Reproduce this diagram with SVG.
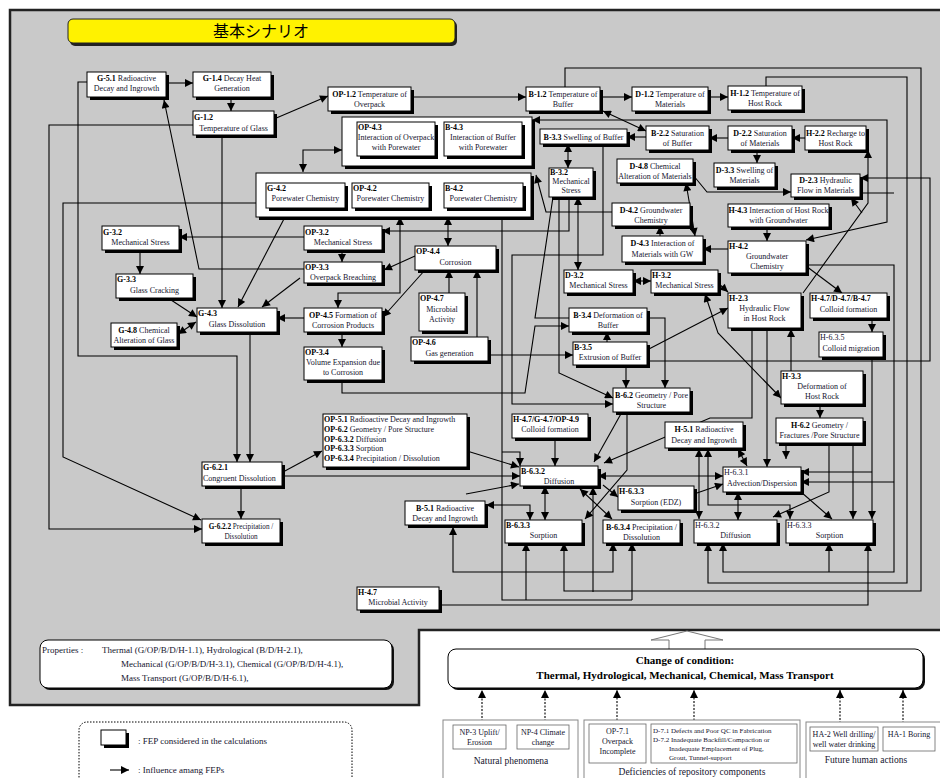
<svg xmlns="http://www.w3.org/2000/svg" width="940" height="778" viewBox="0 0 940 778">
<style>
text{font-family:"Liberation Serif","Times New Roman",serif;font-size:8px;fill:#14142e}
.b{font-weight:bold;fill:#000}
.c{text-anchor:middle}
.bx{fill:#fff;stroke:#000;stroke-width:1}
.sh{fill:#000}
.ln{fill:none;stroke:#000;stroke-width:1.1;marker-end:url(#ah)}
.nl{fill:none;stroke:#000;stroke-width:1.1}
.bi{fill:none;stroke:#000;stroke-width:1.1;marker-end:url(#ah);marker-start:url(#ah)}
.dl{fill:none;stroke:#000;stroke-width:1.1;stroke-dasharray:2 1.5;marker-end:url(#ah)}
.grp{fill:#fff;stroke:#888;stroke-width:1}
.sb{fill:#fff;stroke:#666;stroke-width:0.8}
.lb{font-size:9.5px}
</style>
<defs>
<marker id="ah" viewBox="0 0 10 10" refX="10" refY="5" markerWidth="9" markerHeight="8" markerUnits="userSpaceOnUse" orient="auto-start-reverse"><path d="M0,0 L10,5 L0,10 z" fill="#000"/></marker>
</defs>
<rect width="940" height="778" fill="#fff"/>
<path d="M10,10 H946 V630 H419 V705 H10 Z" fill="#c9c9c9" stroke="#222" stroke-width="2.5"/>
<g id="title">
<rect x="70" y="21" width="387" height="25" rx="5" fill="#222"/>
<rect x="68" y="19" width="387" height="24" rx="5" fill="#fff200" stroke="#222" stroke-width="1"/>
<text x="261" y="37" class="c" style="font-family:'Noto Sans CJK JP','Noto Sans CJK SC',sans-serif;font-size:16px;fill:#000">基本シナリオ</text>
</g>
<g id="connectors">
<path class="ln" d="M166,83 H193"/>
<path class="ln" d="M231,97 V111"/>
<path class="ln" d="M274,119 L328,96"/>
<path class="ln" d="M411,97 H526"/>
<path class="ln" d="M600,97 H632"/>
<path class="ln" d="M708,97 H728"/>
<path class="ln" d="M565,87 V68 H921 V591 H564 V543"/>
<path class="ln" d="M766,86 V77 H907 V583 H708 V543"/>
<path class="bi" d="M603,111 L646,131"/>
<path class="ln" d="M646,137 H627"/>
<path class="ln" d="M728,138 H709"/>
<path class="ln" d="M805,138 H792"/>
<path class="ln" d="M757,150 V163"/>
<path class="bi" d="M532,120 H887 V222 L806,240"/>
<path class="ln" d="M693,175 L707,192 H791"/>
<path class="bi" d="M686,183 L695,236"/>
<path class="ln" d="M660,236 V226"/>
<path class="ln" d="M612,212 H546 L536,175"/>
<path class="bi" d="M568,144 V168"/>
<path class="ln" d="M603,144 V255 H512 V404 H613"/>
<path class="ln" d="M569,197 V231 H382"/>
<path class="bi" d="M578,197 V270"/>
<path class="ln" d="M559,197 V373 L613,398"/>
<path class="nl" d="M553,197 L535,318 H569"/>
<path class="nl" d="M502,217 V600 H632"/>
<path class="ln" d="M632,600 V543"/>
<path class="ln" d="M526,600 V543"/>
<path class="ln" d="M502,452 H520 V466"/>
<path class="ln" d="M502,505 H530 V520"/>
<path class="ln" d="M502,505 H486"/>
<path class="ln" d="M728,249 H703"/>
<path class="ln" d="M767,227 V241"/>
<path class="ln" d="M806,266 L842,293"/>
<path class="ln" d="M806,265 H894 V572 H723 V543"/>
<path class="ln" d="M829,572 V543"/>
<path class="nl" d="M860,193 H894"/>
<path class="ln" d="M647,361 H930 V178 H860"/>
<path class="ln" d="M803,293 L868,203 V150"/>
<path class="ln" d="M862,213 L851,198"/>
<path class="ln" d="M872,318 V332"/>
<path class="ln" d="M872,357 V519"/>
<path class="ln" d="M872,472 H801"/>
<path class="ln" d="M894,482 H801"/>
<path class="ln" d="M767,328 V467"/>
<path class="ln" d="M752,328 V418 H710 L604,463"/>
<path class="ln" d="M791,371 V329"/>
<path class="ln" d="M820,404 V418"/>
<path class="bi" d="M705,294 L718,333 L781,398"/>
<path class="ln" d="M718,283 L728,292"/>
<path class="ln" d="M647,350 L728,308"/>
<path class="bi" d="M633,281 H651"/>
<path class="ln" d="M647,318 H665 V388"/>
<path class="ln" d="M626,365 V388"/>
<path class="ln" d="M607,342 V332"/>
<path class="ln" d="M622,412 L594,462"/>
<path class="ln" d="M627,412 V470 L585,519"/>
<path class="ln" d="M555,438 V466"/>
<path class="ln" d="M282,476 H520"/>
<path class="ln" d="M467,451 L519,467"/>
<path class="ln" d="M283,472 L322,451"/>
<path class="bi" d="M598,476 H723"/>
<path class="ln" d="M603,485 L618,497"/>
<path class="ln" d="M694,494 L723,484"/>
<path class="bi" d="M738,449 L747,466"/>
<path class="ln" d="M786,446 V459"/>
<path class="ln" d="M829,443 V492 L773,517"/>
<path class="ln" d="M853,443 V519"/>
<path class="bi" d="M738,492 V520"/>
<path class="ln" d="M801,492 L832,519"/>
<path class="bi" d="M545,486 V520"/>
<path class="bi" d="M580,489 L612,519"/>
<path class="ln" d="M593,592 V487"/>
<path class="bi" d="M699,449 V519"/>
<path class="bi" d="M708,449 V505 H790 V519"/>
<path class="ln" d="M466,494 L519,484"/>
<path class="bi" d="M453,527 V572 H613 V543"/>
<path class="ln" d="M439,605 H868 V543"/>
<path class="ln" d="M87,82 H78 V356 H237 V462"/>
<path class="ln" d="M193,125 H49 V529 H202"/>
<path class="ln" d="M256,203 H63 V457 L201,520"/>
<path class="ln" d="M304,237 H179"/>
<path class="ln" d="M140,250 V274"/>
<path class="ln" d="M168,298 L197,317"/>
<path class="bi" d="M178,334 L196,322"/>
<path class="ln" d="M222,135 V308"/>
<path class="ln" d="M285,217 L238,307"/>
<path class="ln" d="M300,278 L262,307"/>
<path class="ln" d="M304,318 H277"/>
<path class="ln" d="M250,332 V462"/>
<path class="ln" d="M241,486 V519"/>
<path class="ln" d="M304,269 H199 L164,100"/>
<path class="bi" d="M303,172 V150 H342"/>
<path class="ln" d="M342,250 V262"/>
<path class="ln" d="M415,256 L384,270"/>
<path class="ln" d="M425,270 L383,317"/>
<path class="bi" d="M400,217 V293 H338 V308"/>
<path class="bi" d="M448,217 V246"/>
<path class="ln" d="M449,293 V270"/>
<path class="ln" d="M477,337 V270"/>
<path class="ln" d="M342,332 V347"/>
<path class="ln" d="M342,380 V393 H525 L535,326 H569"/>
<path class="ln" d="M487,355 H573"/>
</g>
<g id="n-g51"><rect class="sh" x="90" y="75" width="79" height="25"/><rect class="bx" x="87" y="72" width="79" height="25"/><text x="126.5" y="81" class="c"><tspan class="b">G-5.1</tspan> Radioactive</text><text x="126.5" y="91" class="c">Decay and Ingrowth</text></g>
<g id="n-g14"><rect class="sh" x="196" y="75" width="78" height="25"/><rect class="bx" x="193" y="72" width="78" height="25"/><text x="232" y="81" class="c"><tspan class="b">G-1.4</tspan> Decay Heat</text><text x="232" y="91" class="c">Generation</text></g>
<g id="n-g12"><rect class="sh" x="196" y="114" width="81" height="24"/><rect class="bx" x="193" y="111" width="81" height="24"/><text x="194" y="120" class="b">G-1.2</text><text x="233.5" y="131" class="c">Temperature of Glass</text></g>
<g id="n-op12"><rect class="sh" x="331" y="90" width="83" height="24"/><rect class="bx" x="328" y="87" width="83" height="24"/><text x="369.5" y="97" class="c"><tspan class="b">OP-1.2</tspan> Temperature of</text><text x="369.5" y="107" class="c">Overpack</text></g>
<g id="n-int"><rect class="sh" x="345" y="120" width="190" height="49"/><rect class="bx" x="342" y="117" width="190" height="49"/>
<rect class="sh" x="360" y="125" width="78" height="34"/><rect class="bx" x="357" y="122" width="78" height="34"/><text x="358" y="130" class="b">OP-4.3</text><text x="396" y="140" class="c">Interaction of Overpack</text><text x="396" y="150" class="c">with Porewater</text>
<rect class="sh" x="447" y="125" width="78" height="34"/><rect class="bx" x="444" y="122" width="78" height="34"/><text x="445" y="130" class="b">B-4.3</text><text x="483" y="140" class="c">Interaction of Buffer</text><text x="483" y="150" class="c">with Porewater</text></g>
<g id="n-pw"><rect class="sh" x="259" y="176" width="275" height="44"/><rect class="bx" x="256" y="173" width="275" height="44"/>
<rect class="sh" x="269" y="186" width="79" height="25"/><rect class="bx" x="266" y="183" width="79" height="25"/><text x="267" y="191" class="b">G-4.2</text><text x="305.5" y="201" class="c">Porewater Chemistry</text>
<rect class="sh" x="355" y="186" width="77" height="25"/><rect class="bx" x="352" y="183" width="77" height="25"/><text x="353" y="191" class="b">OP-4.2</text><text x="390.5" y="201" class="c">Porewater Chemistry</text>
<rect class="sh" x="447" y="186" width="79" height="25"/><rect class="bx" x="444" y="183" width="79" height="25"/><text x="445" y="191" class="b">B-4.2</text><text x="483.5" y="201" class="c">Porewater Chemistry</text></g>
<g id="n-b12"><rect class="sh" x="529" y="90" width="74" height="24"/><rect class="bx" x="526" y="87" width="74" height="24"/><text x="563" y="97" class="c"><tspan class="b">B-1.2</tspan> Temperature of</text><text x="563" y="107" class="c">Buffer</text></g>
<g id="n-d12"><rect class="sh" x="635" y="90" width="76" height="24"/><rect class="bx" x="632" y="87" width="76" height="24"/><text x="670" y="97" class="c"><tspan class="b">D-1.2</tspan> Temperature of</text><text x="670" y="107" class="c">Materials</text></g>
<g id="n-h12"><rect class="sh" x="731" y="89" width="74" height="24"/><rect class="bx" x="728" y="86" width="74" height="24"/><text x="765" y="96" class="c"><tspan class="b">H-1.2</tspan> Temperature of</text><text x="765" y="106" class="c">Host Rock</text></g>
<g id="n-b33"><rect class="sh" x="543" y="132" width="87" height="15"/><rect class="bx" x="540" y="129" width="87" height="15"/><text x="583.5" y="139.5" class="c"><tspan class="b">B-3.3</tspan> Swelling of Buffer</text></g>
<g id="n-b22"><rect class="sh" x="649" y="129" width="63" height="24"/><rect class="bx" x="646" y="126" width="63" height="24"/><text x="677.5" y="136" class="c"><tspan class="b">B-2.2</tspan> Saturation</text><text x="677.5" y="146" class="c">of Buffer</text></g>
<g id="n-d22"><rect class="sh" x="731" y="129" width="64" height="24"/><rect class="bx" x="728" y="126" width="64" height="24"/><text x="760" y="136" class="c"><tspan class="b">D-2.2</tspan> Saturation</text><text x="760" y="146" class="c">of Materials</text></g>
<g id="n-h22"><rect class="sh" x="808" y="129" width="61" height="24"/><rect class="bx" x="805" y="126" width="61" height="24"/><text x="835.5" y="136" class="c"><tspan class="b">H-2.2</tspan> Recharge to</text><text x="835.5" y="146" class="c">Host Rock</text></g>
<g id="n-b32"><rect class="sh" x="552" y="171" width="44" height="29"/><rect class="bx" x="549" y="168" width="44" height="29"/><text x="550" y="175" class="b">B-3.2</text><text x="571" y="184" class="c">Mechanical</text><text x="571" y="193" class="c">Stress</text></g>
<g id="n-d48"><rect class="sh" x="620" y="162" width="76" height="24"/><rect class="bx" x="617" y="159" width="76" height="24"/><text x="655" y="169" class="c"><tspan class="b">D-4.8</tspan> Chemical</text><text x="655" y="179" class="c">Alteration of Materials</text></g>
<g id="n-d33"><rect class="sh" x="717" y="166" width="61" height="24"/><rect class="bx" x="714" y="163" width="61" height="24"/><text x="744.5" y="173" class="c"><tspan class="b">D-3.3</tspan> Swelling of</text><text x="744.5" y="183" class="c">Materials</text></g>
<g id="n-d23"><rect class="sh" x="794" y="177" width="69" height="23"/><rect class="bx" x="791" y="174" width="69" height="23"/><text x="825.5" y="183" class="c"><tspan class="b">D-2.3</tspan> Hydraulic</text><text x="825.5" y="193" class="c">Flow in Materials</text></g>
<g id="n-d42"><rect class="sh" x="615" y="206" width="78" height="23"/><rect class="bx" x="612" y="203" width="78" height="23"/><text x="651" y="213" class="c"><tspan class="b">D-4.2</tspan> Groundwater</text><text x="651" y="223" class="c">Chemistry</text></g>
<g id="n-d43"><rect class="sh" x="625" y="239" width="81" height="26"/><rect class="bx" x="622" y="236" width="81" height="26"/><text x="662.5" y="246" class="c"><tspan class="b">D-4.3</tspan> Interaction of</text><text x="662.5" y="257" class="c">Materials with GW</text></g>
<g id="n-h43"><rect class="sh" x="731" y="207" width="101" height="23"/><rect class="bx" x="728" y="204" width="101" height="23"/><text x="778.5" y="213" class="c"><tspan class="b">H-4.3</tspan> Interaction of Host Rock</text><text x="778.5" y="223" class="c">with Groundwater</text></g>
<g id="n-h42"><rect class="sh" x="731" y="244" width="78" height="32"/><rect class="bx" x="728" y="241" width="78" height="32"/><text x="729" y="249" class="b">H-4.2</text><text x="767" y="259" class="c">Groundwater</text><text x="767" y="269" class="c">Chemistry</text></g>
<g id="n-g32"><rect class="sh" x="105" y="229" width="77" height="24"/><rect class="bx" x="102" y="226" width="77" height="24"/><text x="103" y="235" class="b">G-3.2</text><text x="140.5" y="245" class="c">Mechanical Stress</text></g>
<g id="n-op32"><rect class="sh" x="307" y="229" width="78" height="24"/><rect class="bx" x="304" y="226" width="78" height="24"/><text x="305" y="235" class="b">OP-3.2</text><text x="343" y="245" class="c">Mechanical Stress</text></g>
<g id="n-op44"><rect class="sh" x="418" y="249" width="81" height="24"/><rect class="bx" x="415" y="246" width="81" height="24"/><text x="416" y="254" class="b">OP-4.4</text><text x="455.5" y="265" class="c">Corrosion</text></g>
<g id="n-op33"><rect class="sh" x="307" y="265" width="78" height="21"/><rect class="bx" x="304" y="262" width="78" height="21"/><text x="305" y="270" class="b">OP-3.3</text><text x="343" y="280" class="c">Overpack Breaching</text></g>
<g id="n-g33"><rect class="sh" x="119" y="277" width="77" height="24"/><rect class="bx" x="116" y="274" width="77" height="24"/><text x="117" y="282" class="b">G-3.3</text><text x="154.5" y="293" class="c">Glass Cracking</text></g>
<g id="n-g43"><rect class="sh" x="200" y="311" width="80" height="24"/><rect class="bx" x="197" y="308" width="80" height="24"/><text x="198" y="316" class="b">G-4.3</text><text x="237" y="327" class="c">Glass Dissolution</text></g>
<g id="n-g48"><rect class="sh" x="114" y="326" width="66" height="24"/><rect class="bx" x="111" y="323" width="66" height="24"/><text x="144" y="333" class="c"><tspan class="b">G-4.8</tspan> Chemical</text><text x="144" y="343" class="c">Alteration of Glass</text></g>
<g id="n-op45"><rect class="sh" x="307" y="311" width="78" height="24"/><rect class="bx" x="304" y="308" width="78" height="24"/><text x="343" y="318" class="c"><tspan class="b">OP-4.5</tspan> Formation of</text><text x="343" y="328" class="c">Corrosion Products</text></g>
<g id="n-op47"><rect class="sh" x="422" y="296" width="46" height="38"/><rect class="bx" x="419" y="293" width="46" height="38"/><text x="420" y="301" class="b">OP-4.7</text><text x="442" y="312" class="c">Microbial</text><text x="442" y="322" class="c">Activity</text></g>
<g id="n-op46"><rect class="sh" x="414" y="340" width="77" height="24"/><rect class="bx" x="411" y="337" width="77" height="24"/><text x="412" y="345" class="b">OP-4.6</text><text x="449.5" y="356" class="c">Gas generation</text></g>
<g id="n-op34"><rect class="sh" x="307" y="350" width="78" height="33"/><rect class="bx" x="304" y="347" width="78" height="33"/><text x="305" y="355" class="b">OP-3.4</text><text x="343" y="365" class="c">Volume Expansion due</text><text x="343" y="375" class="c">to Corrosion</text></g>
<g id="n-d32"><rect class="sh" x="567" y="273" width="69" height="23"/><rect class="bx" x="564" y="270" width="69" height="23"/><text x="565" y="278" class="b">D-3.2</text><text x="598.5" y="288" class="c">Mechanical Stress</text></g>
<g id="n-h32"><rect class="sh" x="654" y="273" width="67" height="23"/><rect class="bx" x="651" y="270" width="67" height="23"/><text x="652" y="278" class="b">H-3.2</text><text x="684.5" y="288" class="c">Mechanical Stress</text></g>
<g id="n-b34"><rect class="sh" x="572" y="311" width="78" height="24"/><rect class="bx" x="569" y="308" width="78" height="24"/><text x="608" y="318" class="c"><tspan class="b">B-3.4</tspan> Deformation of</text><text x="608" y="328" class="c">Buffer</text></g>
<g id="n-b35"><rect class="sh" x="576" y="345" width="74" height="23"/><rect class="bx" x="573" y="342" width="74" height="23"/><text x="574" y="350" class="b">B-3.5</text><text x="610" y="360" class="c">Extrusion of Buffer</text></g>
<g id="n-h23"><rect class="sh" x="731" y="296" width="73" height="35"/><rect class="bx" x="728" y="293" width="73" height="35"/><text x="729" y="301" class="b">H-2.3</text><text x="764.5" y="311" class="c">Hydraulic Flow</text><text x="764.5" y="321" class="c">in Host Rock</text></g>
<g id="n-h47c"><rect class="sh" x="813" y="296" width="77" height="25"/><rect class="bx" x="810" y="293" width="77" height="25"/><text x="811" y="301" class="b">H-4.7/D-4.7/B-4.7</text><text x="848.5" y="312" class="c">Colloid formation</text></g>
<g id="n-h635"><rect class="sh" x="822" y="335" width="64" height="25"/><rect class="bx" x="819" y="332" width="64" height="25"/><text x="820" y="340">H-6.3.5</text><text x="851" y="351" class="c">Colloid migration</text></g>
<g id="n-h33"><rect class="sh" x="784" y="374" width="82" height="33"/><rect class="bx" x="781" y="371" width="82" height="33"/><text x="782" y="379" class="b">H-3.3</text><text x="822" y="389" class="c">Deformation of</text><text x="822" y="399" class="c">Host Rock</text></g>
<g id="n-b62"><rect class="sh" x="616" y="391" width="77" height="24"/><rect class="bx" x="613" y="388" width="77" height="24"/><text x="651.5" y="398" class="c"><tspan class="b">B-6.2</tspan> Geometry / Pore</text><text x="651.5" y="408" class="c">Structure</text></g>
<g id="n-h62"><rect class="sh" x="779" y="421" width="87" height="25"/><rect class="bx" x="776" y="418" width="87" height="25"/><text x="819.5" y="428" class="c"><tspan class="b">H-6.2</tspan> Geometry /</text><text x="819.5" y="438" class="c">Fractures /Pore Structure</text></g>
<g id="n-op51"><rect class="sh" x="326" y="417" width="144" height="53"/><rect class="bx" x="323" y="414" width="144" height="53"/><text x="324" y="422"><tspan class="b">OP-5.1</tspan> Radioactive Decay and Ingrowth</text><text x="324" y="432"><tspan class="b">OP-6.2</tspan> Geometry / Pore Structure</text><text x="324" y="441.5"><tspan class="b">OP-6.3.2</tspan> Diffusion</text><text x="324" y="451"><tspan class="b">OP-6.3.3</tspan> Sorption</text><text x="324" y="460.5"><tspan class="b">OP-6.3.4</tspan> Precipitation / Dissolution</text></g>
<g id="n-h47g"><rect class="sh" x="515" y="417" width="76" height="24"/><rect class="bx" x="512" y="414" width="76" height="24"/><text x="513" y="422" class="b">H-4.7/G-4.7/OP-4.9</text><text x="550" y="432" class="c">Colloid formation</text></g>
<g id="n-h51"><rect class="sh" x="668" y="425" width="78" height="26"/><rect class="bx" x="665" y="422" width="78" height="26"/><text x="704" y="432" class="c"><tspan class="b">H-5.1</tspan> Radioactive</text><text x="704" y="443" class="c">Decay and Ingrowth</text></g>
<g id="n-g621"><rect class="sh" x="205" y="465" width="80" height="24"/><rect class="bx" x="202" y="462" width="80" height="24"/><text x="203" y="470" class="b">G-6.2.1</text><text x="203" y="481">Congruent Dissolution</text></g>
<g id="n-b632"><rect class="sh" x="523" y="469" width="78" height="20"/><rect class="bx" x="520" y="466" width="78" height="20"/><text x="521" y="474" class="b">B-6.3.2</text><text x="559" y="484" class="c">Diffusion</text></g>
<g id="n-h631"><rect class="sh" x="726" y="470" width="78" height="25"/><rect class="bx" x="723" y="467" width="78" height="25"/><text x="724" y="475">H-6.3.1</text><text x="762" y="486" class="c">Advection/Dispersion</text></g>
<g id="n-h633e"><rect class="sh" x="621" y="489" width="76" height="24"/><rect class="bx" x="618" y="486" width="76" height="24"/><text x="619" y="494" class="b">H-6.3.3</text><text x="656" y="505" class="c">Sorption (EDZ)</text></g>
<g id="n-b51"><rect class="sh" x="408" y="504" width="80" height="24"/><rect class="bx" x="405" y="501" width="80" height="24"/><text x="445" y="511" class="c"><tspan class="b">B-5.1</tspan> Radioactive</text><text x="445" y="521" class="c">Decay and Ingrowth</text></g>
<g id="n-g622"><rect class="sh" x="205" y="522" width="78" height="24"/><rect class="bx" x="202" y="519" width="78" height="24"/><text x="241" y="529" class="c" style="font-size:7.2px"><tspan class="b">G-6.2.2</tspan> Precipitation /</text><text x="241" y="539" class="c" style="font-size:7.2px">Dissolution</text></g>
<g id="n-b633"><rect class="sh" x="508" y="523" width="77" height="23"/><rect class="bx" x="505" y="520" width="77" height="23"/><text x="506" y="528" class="b">B-6.3.3</text><text x="543.5" y="538" class="c">Sorption</text></g>
<g id="n-b634"><rect class="sh" x="606" y="523" width="77" height="23"/><rect class="bx" x="603" y="520" width="77" height="23"/><text x="641.5" y="530" class="c"><tspan class="b">B-6.3.4</tspan> Precipitation /</text><text x="641.5" y="540" class="c">Dissolution</text></g>
<g id="n-h632"><rect class="sh" x="697" y="523" width="83" height="23"/><rect class="bx" x="694" y="520" width="83" height="23"/><text x="695" y="528">H-6.3.2</text><text x="735.5" y="538" class="c">Diffusion</text></g>
<g id="n-h633"><rect class="sh" x="789" y="523" width="87" height="23"/><rect class="bx" x="786" y="520" width="87" height="23"/><text x="787" y="528">H-6.3.3</text><text x="829.5" y="538" class="c">Sorption</text></g>
<g id="n-h47m"><rect class="sh" x="360" y="590" width="82" height="23"/><rect class="bx" x="357" y="587" width="82" height="23"/><text x="358" y="595" class="b">H-4.7</text><text x="398" y="605" class="c">Microbial Activity</text></g>
<g id="properties">
<rect x="42" y="642" width="352" height="48" rx="8" fill="#111"/>
<rect x="40" y="640" width="352" height="48" rx="8" fill="#fff" stroke="#000" stroke-width="1"/>
<text x="42" y="653" style="font-size:9px">Properties :</text>
<text x="102" y="653" style="font-size:9px">Thermal (G/OP/B/D/H-1.1), Hydrological (B/D/H-2.1),</text>
<text x="121" y="667" style="font-size:9px">Mechanical (G/OP/B/D/H-3.1), Chemical (G/OP/B/D/H-4.1),</text>
<text x="121" y="681" style="font-size:9px">Mass Transport (G/OP/B/D/H-6.1),</text>
</g>
<g id="change">
<path d="M669,649 V640 H651 L687,631 L723,640 H705 V649" fill="#fff" stroke="#777" stroke-width="1"/>
<rect x="450" y="651" width="475" height="39" rx="8" fill="#111"/>
<rect x="448" y="649" width="475" height="39" rx="8" fill="#fff" stroke="#000" stroke-width="1"/>
<text x="685" y="664" class="c b" style="font-size:11px">Change of condition:</text>
<text x="685" y="679" class="c b" style="font-size:11px">Thermal, Hydrological, Mechanical, Chemical, Mass Transport</text>
</g>
<g id="external">
<path class="dl" d="M482,725 V690"/>
<path class="dl" d="M545,725 V690"/>
<path class="dl" d="M617,724 V690"/>
<path class="dl" d="M694,724 V690"/>
<path class="dl" d="M840,727 V690"/>
<path class="dl" d="M903,727 V690"/>
<rect class="grp" x="443" y="720" width="135" height="70"/>
<rect class="sb" x="453" y="725" width="53" height="24"/><text x="479.5" y="735" class="c">NP-3 Uplift/</text><text x="479.5" y="745" class="c">Erosion</text>
<rect class="sb" x="517" y="725" width="52" height="24"/><text x="543" y="735" class="c">NP-4 Climate</text><text x="543" y="745" class="c">change</text>
<text x="511" y="764" class="c lb">Natural phenomena</text>
<rect class="grp" x="584" y="720" width="216" height="70"/>
<rect class="sb" x="589" y="724" width="57" height="39"/><text x="617.5" y="734" class="c">OP-7.1</text><text x="617.5" y="744" class="c">Overpack</text><text x="617.5" y="754" class="c">Incomplete</text>
<rect class="sb" x="651" y="724" width="146" height="39"/>
<text x="653" y="733" style="font-size:7px">D-7.1 Defects and Poor QC in Fabrication</text>
<text x="653" y="742" style="font-size:7px">D-7.2 Inadequate Backfill/Compaction or</text>
<text x="669" y="751" style="font-size:7px">Inadequate Emplacement of Plug,</text>
<text x="669" y="760" style="font-size:7px">Grout, Tunnel-support</text>
<text x="692" y="775" class="c lb">Deficiencies of repository components</text>
<rect class="grp" x="806" y="722" width="140" height="70"/>
<rect class="sb" x="810" y="727" width="68" height="24"/><text x="844" y="737" class="c">HA-2 Well drilling/</text><text x="844" y="747" class="c">well water drinking</text>
<rect class="sb" x="883" y="727" width="52" height="24"/><text x="909" y="737" class="c">HA-1 Boring</text>
<text x="866" y="763" class="c lb">Future human actions</text>
</g>
<g id="legend">
<rect x="79" y="722" width="273" height="70" rx="8" fill="#fff" stroke="#000" stroke-width="1" stroke-dasharray="1.5 1.5"/>
<rect x="104" y="733" width="25" height="15" fill="#000"/>
<rect x="101" y="730" width="25" height="15" fill="#fff" stroke="#000" stroke-width="1"/>
<text x="138" y="744" style="font-size:9px">: FEP considered in the calculations</text>
<path class="ln" d="M110,770 H129"/>
<text x="138" y="773" style="font-size:9px">: Influence amang FEPs</text>
</g>
</svg>
